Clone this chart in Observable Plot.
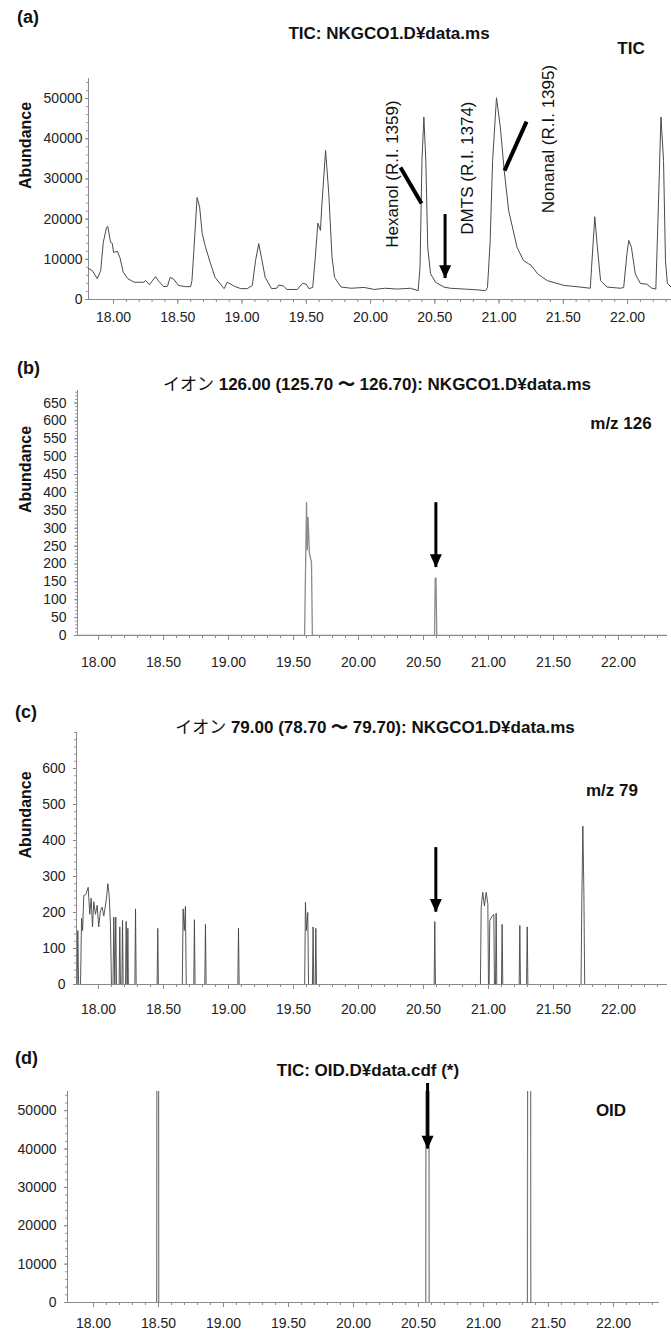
<!DOCTYPE html>
<html><head><meta charset="utf-8">
<script src="https://cdn.jsdelivr.net/npm/d3@7"></script>
<script src="https://cdn.jsdelivr.net/npm/@observablehq/plot@0.6"></script>
<style>
body{margin:0;background:#fff;}
#wrap{position:relative;width:671px;height:1333px;overflow:hidden;background:#fff;font-family:"Liberation Sans",Arial,sans-serif;color:#111;}
.t{position:absolute;white-space:nowrap;font-weight:bold;line-height:1;transform:translate(-50%,-50%);}
.l{position:absolute;white-space:nowrap;font-weight:bold;line-height:1;transform:translate(0,-50%);font-size:18px;}
.ion{font-family:"Noto Sans CJK JP",sans-serif;font-weight:normal;}
.panel{position:absolute;left:0;}
</style></head><body><div id="wrap"></div>
<script>
// ---------- shared axis ticks ----------
const xMajor = [18, 18.5, 19, 19.5, 20, 20.5, 21, 21.5, 22];
const xTickLabels = ["18.00","18.50","19.00","19.50","20.00","20.50","21.00","21.50","22.00"];

// ---------- (a) TIC ----------
const aTime = [17.805,17.834,17.873,17.90,17.92,17.945,17.955,17.977,17.99,18.00,18.03,18.05,18.075,18.11,18.16,18.235,18.25,18.28,18.327,18.35,18.39,18.42,18.44,18.47,18.505,18.56,18.60,18.61,18.625,18.65,18.67,18.69,18.716,18.755,18.79,18.86,18.885,18.94,18.99,19.04,19.08,19.105,19.13,19.155,19.18,19.23,19.27,19.285,19.32,19.35,19.43,19.47,19.50,19.52,19.55,19.57,19.59,19.61,19.62,19.65,19.675,19.70,19.72,19.77,19.85,19.95,20.03,20.11,20.21,20.31,20.37,20.385,20.40,20.415,20.43,20.445,20.467,20.506,20.57,20.62,20.73,20.83,20.895,20.91,20.93,20.95,20.98,21.01,21.04,21.075,21.14,21.19,21.23,21.25,21.30,21.375,21.505,21.63,21.71,21.72,21.745,21.765,21.79,21.84,21.945,21.97,21.995,22.01,22.03,22.06,22.10,22.15,22.19,22.22,22.235,22.26,22.28,22.295,22.31,22.342];
const aAbund = [7700,7200,5200,7200,14200,17900,18200,14200,14000,11700,12000,10400,6800,5200,4300,4300,4700,3700,5700,4600,3200,3300,5500,5000,3500,3200,3200,4700,12200,25400,23000,16400,13000,8900,5500,2700,4300,3300,2700,2700,3500,9700,13900,9700,5500,2700,2800,3600,3400,2500,2500,4000,3800,2700,3000,10500,19000,17200,23000,37100,26300,10500,5500,3100,2800,3000,2500,2800,2600,2800,2200,8000,34600,45400,34600,13000,6400,4300,3100,2800,2600,2400,2200,3000,13900,34600,50200,42900,32100,22100,13000,9700,8900,8500,6400,4700,3500,3100,2800,8000,20600,13000,4700,3100,2800,3000,11400,14700,13000,6400,4000,3800,2800,2600,18000,45400,34600,9700,4000,3000];
const aLabels = ["Hexanol (R.I. 1359)", "DMTS (R.I. 1374)", "Nonanal (R.I. 1395)"];
const aLabelX = [20.171, 20.755, 21.385];
const aLabelY = [31220, 32710, 39930];
const aLeaderX1 = [20.233, 21.214];
const aLeaderY1 = [32840, 44280];
const aLeaderX2 = [20.397, 21.043];
const aLeaderY2 = [23880, 32090];
const aArrowX = [20.58], aArrowTip = [5220], aArrowTop = [19150];

// ---------- (b) m/z 126 ----------
const bTime = [17.838,19.585,19.600,19.606,19.612,19.622,19.638,19.645,20.585,20.590,20.596,20.602,22.377];
const bAbund = [0,0,372,240,330,230,205,0,0,160,160,0,0];
const bArrowX = [20.595], bArrowTip = [190], bArrowTop = [349];

// ---------- (c) m/z 79 ----------
const cTime = [17.831,17.836,17.841,17.847,17.862,17.870,17.878,17.887,17.903,17.921,17.933,17.944,17.954,17.964,17.977,17.990,18.002,18.015,18.028,18.041,18.062,18.072,18.082,18.092,18.100,18.112,18.118,18.126,18.133,18.139,18.159,18.164,18.169,18.180,18.185,18.190,18.208,18.213,18.219,18.222,18.226,18.230,18.280,18.285,18.290,18.451,18.456,18.461,18.645,18.651,18.660,18.669,18.675,18.733,18.738,18.743,18.818,18.823,18.828,19.072,19.077,19.082,19.586,19.592,19.600,19.610,19.616,19.646,19.651,19.656,19.667,19.672,19.677,20.582,20.587,20.592,20.938,20.944,20.956,20.969,20.982,20.995,21.000,21.005,21.010,21.028,21.041,21.046,21.054,21.059,21.064,21.100,21.105,21.110,21.236,21.241,21.246,21.293,21.298,21.303,21.712,21.718,21.726,21.734,21.740,22.377];
const cAbund = [0,0,150,0,0,184,150,247,250,270,195,240,160,230,195,220,160,205,215,190,240,280,250,170,0,0,187,0,187,0,0,160,0,0,178,0,0,175,0,0,156,0,0,210,0,0,156,0,0,210,150,217,0,0,180,0,0,167,0,0,157,0,0,228,150,200,0,0,160,0,0,156,0,0,175,0,0,215,256,218,256,224,0,0,178,190,195,0,0,198,0,0,167,0,0,164,0,0,160,0,0,235,440,250,0,0];
const cArrowX = [20.595], cArrowTip = [201], cArrowTop = [358];

// ---------- (d) OID ----------
const dTime = [17.80,18.486,18.488,18.500,18.502,20.556,20.558,20.580,20.582,21.338,21.340,21.362,21.364,22.354];
const dAbund = [0,0,90000,90000,0,0,90000,90000,0,0,90000,90000,0,0];
const dArrowX = [20.57], dArrowTip = [40000], dArrowTop = [55000];

// ---------- helpers ----------
const downTri = {draw(ctx, size){ const r = Math.sqrt(size/Math.PI); ctx.moveTo(0,0); ctx.lineTo(-r,-2.2*r); ctx.lineTo(r,-2.2*r); ctx.closePath(); }};
const toRows = (xs, ys) => xs.map((x,i)=>({x, y: ys[i]}));

function panel(cfg){
  const xMinor = d3.range(18, 22.41, 0.1).filter(v => v >= cfg.xDomain[0] && v <= cfg.xDomain[1]);
  const yMinor = d3.range(cfg.yDomain[0], cfg.yDomain[1] + 1e-9, cfg.yMinorStep);
  const marks = [
    Plot.ruleY([0], {stroke:"#8a8a8a"}),
    Plot.ruleX([cfg.xDomain[0]], {stroke:"#8a8a8a"}),
    Plot.axisX(xMinor, {tickSize:3, tickFormat:()=>"", stroke:"#8a8a8a", label:null}),
    Plot.axisX(xMajor, {tickSize:5, tickFormat:()=>"", stroke:"#8a8a8a", label:null}),
    Plot.axisX(xMajor, {tickSize:0, tickPadding:cfg.xPad, tickFormat:(d,i)=>xTickLabels[i], fill:"#222", fontSize:14, label:null}),
    Plot.axisY(yMinor, {tickSize:2, tickFormat:()=>"", stroke:"#9a9a9a", label:null}),
    Plot.axisY(cfg.yMajor, {tickSize:3, tickFormat:()=>"", stroke:"#8a8a8a", label:null}),
    Plot.axisY(cfg.yMajor, {tickSize:0, tickPadding:cfg.yPad, tickFormat:d=>String(d), fill:"#222", fontSize:14, label:null}),
    Plot.line(toRows(cfg.xs, cfg.ys), {x:"x", y:"y", stroke:cfg.stroke, strokeWidth:cfg.sw, clip:true}),
    ...(cfg.extra || []),
    Plot.ruleX(cfg.arrows, {x:"x", y1:"tip", y2:"top", stroke:"#000", strokeWidth:3, insetBottom:8}),
    Plot.dot(cfg.arrows, {x:"x", y:"tip", symbol:downTri, r:6, fill:"#000", stroke:"none"})
  ];
  if (cfg.ylabel) marks.push(Plot.text(["Abundance"], {text:d=>d, frameAnchor:"left", rotate:-90, dx: 25 - cfg.ml, fontWeight:"bold", fontSize:16, fill:"#111"}));
  return Plot.plot({
    width:671, height:cfg.height,
    marginLeft:cfg.ml, marginRight:cfg.mr, marginTop:cfg.mt, marginBottom:cfg.mb,
    x:{domain:cfg.xDomain, label:null}, y:{domain:cfg.yDomain, label:null},
    style:{fontFamily:'"Liberation Sans", Arial, sans-serif', fontSize:"14px", background:"transparent", overflow:"visible"},
    marks
  });
}

const arrows = (xs, tips, tops) => xs.map((x,i)=>({x, tip:tips[i], top:tops[i]}));

const specs = [
  {top:60, height:274, ml:88, mr:0, mt:18, mb:35, xDomain:[17.805,22.342], yDomain:[0,55000],
   yMajor:[0,10000,20000,30000,40000,50000], yMinorStep:2000, xPad:13, yPad:6, xs:aTime, ys:aAbund, stroke:"#4a4a4a", sw:1, ylabel:true,
   arrows:arrows(aArrowX,aArrowTip,aArrowTop),
   extra:[
     Plot.link(aLeaderX1.map((x,i)=>({x1:x, y1:aLeaderY1[i], x2:aLeaderX2[i], y2:aLeaderY2[i]})), {x1:"x1", y1:"y1", x2:"x2", y2:"y2", stroke:"#000", strokeWidth:4}),
     Plot.text(aLabels.map((t,i)=>({t, x:aLabelX[i], y:aLabelY[i]})), {x:"x", y:"y", text:"t", rotate:-90, fontSize:17, fill:"#111"})
   ]},
  {top:380, height:295, ml:77, mr:4, mt:10, mb:40, xDomain:[17.838,22.377], yDomain:[0,685],
   yMajor:[0,50,100,150,200,250,300,350,400,450,500,550,600,650], yMinorStep:10, xPad:22, yPad:11, xs:bTime, ys:bAbund, stroke:"#8c8c8c", sw:1.3, ylabel:true,
   arrows:arrows(bArrowX,bArrowTip,bArrowTop)},
  {top:720, height:299, ml:76, mr:4, mt:12, mb:35, xDomain:[17.831,22.377], yDomain:[0,700],
   yMajor:[0,100,200,300,400,500,600], yMinorStep:20, xPad:20, yPad:11, xs:cTime, ys:cAbund, stroke:"#444", sw:0.9, ylabel:true,
   arrows:arrows(cArrowX,cArrowTip,cArrowTop)},
  {top:1080, height:253, ml:67, mr:12, mt:11, mb:31, xDomain:[17.80,22.354], yDomain:[0,55000],
   yMajor:[0,10000,20000,30000,40000,50000], yMinorStep:2000, xPad:16, yPad:11, xs:dTime, ys:dAbund, stroke:"#777", sw:1.2, ylabel:false,
   arrows:arrows(dArrowX,dArrowTip,dArrowTop)}
];

const wrap = document.getElementById("wrap");
for (const s of specs){
  const d = document.createElement("div");
  d.className = "panel"; d.style.top = s.top + "px";
  d.appendChild(panel(s));
  wrap.appendChild(d);
}

// ---------- texts ----------
const texts = [
  ["l","(a)",17,17,18], ["t","TIC: NKGCO1.D¥data.ms",389,33,17], ["t","TIC",631,48,17],
  ["l","(b)",17,368,18], ["t",'<span class="ion">イオン</span> 126.00 (125.70 〜 126.70): NKGCO1.D¥data.ms',377,383,17], ["t","m/z 126",621,423,17],
  ["l","(c)",15,712,18], ["t",'<span class="ion">イオン</span> 79.00 (78.70 〜 79.70): NKGCO1.D¥data.ms',375,726,17], ["t","m/z 79",612,790,17],
  ["l","(d)",15,1058,18], ["t","TIC: OID.D¥data.cdf (*)",368,1070,17], ["t","OID",611,1110,17]
];
for (const [cls, html, x, y, fs] of texts){
  const e = document.createElement("div");
  e.className = cls; e.innerHTML = html;
  e.style.left = x + "px"; e.style.top = y + "px"; e.style.fontSize = fs + "px";
  wrap.appendChild(e);
}
</script></body></html>
